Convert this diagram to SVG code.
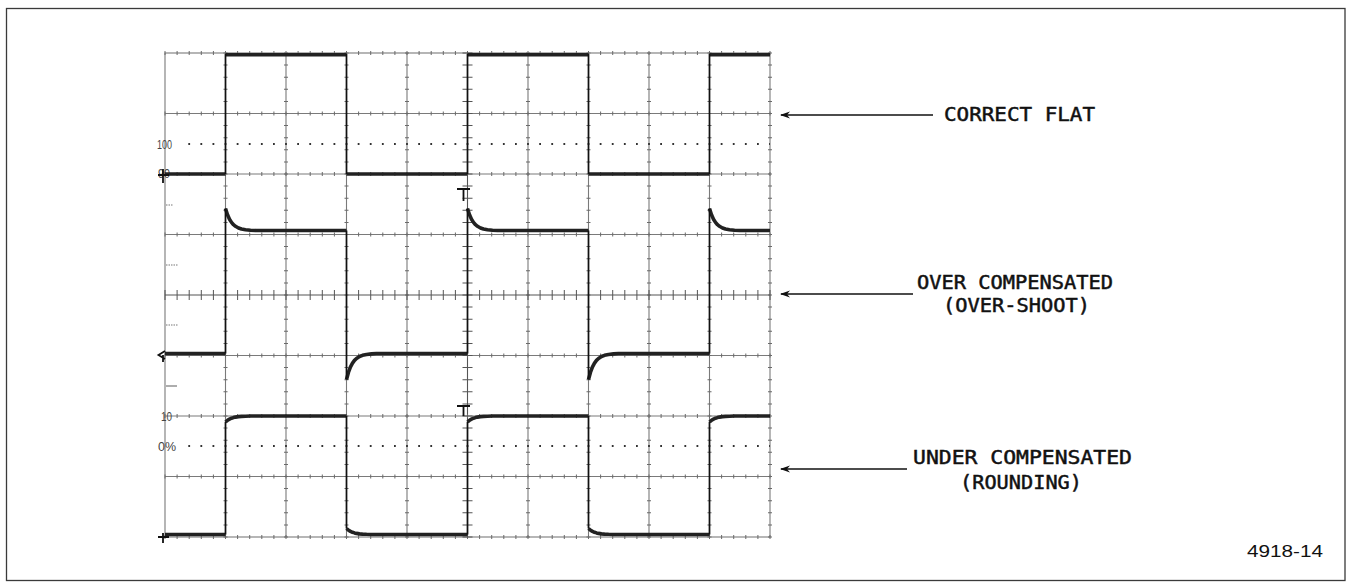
<svg xmlns="http://www.w3.org/2000/svg" width="1351" height="582" viewBox="0 0 1351 582">
<style>
.frame{fill:none;stroke:#3a3a3a;stroke-width:1.3}
.grid{fill:none;stroke:#7a7a7a;stroke-width:1.1}
.tick{fill:none;stroke:#6a6a6a;stroke-width:4;stroke-dasharray:1 11.1}
.ctick{fill:none;stroke:#555;stroke-width:10;stroke-dasharray:1 11.1}
.dots{fill:none;stroke:#333;stroke-width:1.8;stroke-dasharray:1.8 10.3}
.lmark{fill:none;stroke:#777;stroke-width:1.2}
.plat{fill:none;stroke:#222;stroke-width:3.6;stroke-linejoin:round;stroke-linecap:butt}
.edge{fill:none;stroke:#111;stroke-width:1.7}
.mk{fill:none;stroke:#111;stroke-width:1.8}
.conn{fill:none;stroke:#111;stroke-width:1.6}
.lbl{font-family:"DejaVu Sans Mono","Liberation Mono",monospace;font-size:20px;fill:#111;stroke:#111;stroke-width:0.5}
.lbl2{font-family:"DejaVu Sans Mono","Liberation Mono",monospace;font-size:19px;fill:#111;stroke:#111;stroke-width:0.5}
.sc{font-family:"Liberation Sans",Arial,sans-serif;font-size:12px;fill:#444}
.fig{font-family:"Liberation Sans",Arial,sans-serif;font-size:17px;fill:#111}
</style>
<defs>
<marker id="ah" markerWidth="10" markerHeight="8" refX="9" refY="4" orient="auto" markerUnits="userSpaceOnUse">
<path d="M10,4 L0,0.5 L3,4 L0,7.5 Z" fill="#111"/>
</marker>
</defs>
<rect width="1351" height="582" fill="#fff"/>
<rect class="frame" x="6.5" y="8.5" width="1338.5" height="572"/>

<g id="graticule">
<rect class="grid" x="165" y="53" width="605" height="484"/>
<path class="grid" d="M225.5,53V537M286,53V537M346.5,53V537M407,53V537M528,53V537M588.5,53V537M649,53V537M709.5,53V537M165,113.5H770M165,174H770M165,234.5H770M165,355.5H770M165,416H770M165,476.5H770"/>
<path class="grid" style="stroke:#555" d="M467.5,53V537M165,295H770"/>
<path class="tick" d="M164.5,113.5H770.5M164.5,174H770.5M164.5,234.5H770.5M164.5,355.5H770.5M164.5,416H770.5M164.5,476.5H770.5M164.5,53H770.5M164.5,537H770.5"/>
<path class="tick" d="M225.5,52.5V537.5M286,52.5V537.5M346.5,52.5V537.5M407,52.5V537.5M528,52.5V537.5M588.5,52.5V537.5M649,52.5V537.5M709.5,52.5V537.5M770,52.5V537.5"/>
<path class="ctick" d="M164.5,295H770.5M467.5,52.5V537.5"/>
<path class="dots" d="M188.3,144H770M188.3,446H770"/>
<path class="lmark" style="stroke-dasharray:1.5 1" d="M166,205H173M166,265H178M166,325H178"/>
<path class="lmark" d="M166,386H177"/>
<text class="sc" x="157" y="149" textLength="15" lengthAdjust="spacingAndGlyphs">100</text>
<text class="sc" x="158" y="178" textLength="12" lengthAdjust="spacingAndGlyphs">90</text>
<text class="sc" x="161" y="421" textLength="11" lengthAdjust="spacingAndGlyphs">10</text>
<text class="sc" x="158" y="451" textLength="18" lengthAdjust="spacingAndGlyphs">0%</text>
</g>

<g id="trace-correct-flat">
<path class="plat" d="M165,174H225.5M225.5,54.7H346.5M346.5,174H467.5M467.5,54.7H588.5M588.5,174H709.5M709.5,54.7H770"/>
<path class="edge" d="M225.5,54V174M346.5,54V174M467.5,54V174M588.5,54V174M709.5,54V174"/>
</g>

<g id="trace-over-compensated">
<path class="plat" d="M165,353.5H225.5
M225.5,208.5l2,6.2l2,4.5l2,3.2l2,2.3l2,1.6l3,1.7l3,1l4,0.7l5,0.5l5,0.3H346.5
M346.5,379.5l2,-7.3l2,-5.3l2,-3.8l2,-2.7l2,-1.9l3,-2l3,-1.2l4,-0.8l5,-0.6l5,-0.4H467.5
M467.5,208.5l2,6.2l2,4.5l2,3.2l2,2.3l2,1.6l3,1.7l3,1l4,0.7l5,0.5l5,0.3H588.5
M588.5,379.5l2,-7.3l2,-5.3l2,-3.8l2,-2.7l2,-1.9l3,-2l3,-1.2l4,-0.8l5,-0.6l5,-0.4H709.5
M709.5,208.5l2,6.2l2,4.5l2,3.2l2,2.3l2,1.6l3,1.7l3,1l4,0.7l5,0.5l5,0.3H770"/>
<path class="edge" d="M225.5,353.5V208.5M346.5,230.5V379.5M467.5,353.5V208.5M588.5,230.5V379.5M709.5,353.5V208.5"/>
</g>

<g id="trace-under-compensated">
<path class="plat" d="M165,534.5H225.5
M225.5,422l2,-1.7l2,-1.2l2,-0.9l2,-0.6l2,-0.5l3,-0.45l3,-0.26l4,-0.21l5,-0.12l5,-0.06H346.5
M346.5,528.5l2,1.7l2,1.2l2,0.9l2,0.6l2,0.5l3,0.45l3,0.26l4,0.21l5,0.12l5,0.06H467.5
M467.5,422l2,-1.7l2,-1.2l2,-0.9l2,-0.6l2,-0.5l3,-0.45l3,-0.26l4,-0.21l5,-0.12l5,-0.06H588.5
M588.5,528.5l2,1.7l2,1.2l2,0.9l2,0.6l2,0.5l3,0.45l3,0.26l4,0.21l5,0.12l5,0.06H709.5
M709.5,422l2,-1.7l2,-1.2l2,-0.9l2,-0.6l2,-0.5l3,-0.45l3,-0.26l4,-0.21l5,-0.12l5,-0.06H770"/>
<path class="edge" d="M225.5,534.5V422M346.5,416V528.5M467.5,534.5V422M588.5,416V528.5M709.5,534.5V422"/>
</g>

<g id="markers">
<path class="mk" d="M158,175H169M163,169V183"/>
<path class="mk" d="M165,351L158.5,355L165,359M163,355V362"/>
<path class="mk" d="M158,537H169M163,533V543"/>
<path class="mk" d="M457,189H470M463.5,189V201"/>
<path class="mk" d="M457,406H470M463.5,406V416"/>
</g>

<g id="connectors">
<path class="conn" d="M933,115H781" marker-end="url(#ah)"/>
<path class="conn" d="M913,294H781" marker-end="url(#ah)"/>
<path class="conn" d="M907,469H781" marker-end="url(#ah)"/>
</g>

<g id="label-correct-flat">
<text class="lbl" x="944" y="121" textLength="151" lengthAdjust="spacingAndGlyphs">CORRECT FLAT</text>
</g>
<g id="label-over-compensated">
<text class="lbl2" x="917" y="289" textLength="196" lengthAdjust="spacingAndGlyphs">OVER COMPENSATED</text>
<text class="lbl2" x="943" y="312" textLength="147" lengthAdjust="spacingAndGlyphs">(OVER-SHOOT)</text>
</g>
<g id="label-under-compensated">
<text class="lbl" x="913" y="464" textLength="219" lengthAdjust="spacingAndGlyphs">UNDER COMPENSATED</text>
<text class="lbl" x="960" y="489" textLength="122" lengthAdjust="spacingAndGlyphs">(ROUNDING)</text>
</g>
<g id="figure-number">
<text class="fig" x="1247" y="557" textLength="76" lengthAdjust="spacingAndGlyphs">4918-14</text>
</g>
</svg>
